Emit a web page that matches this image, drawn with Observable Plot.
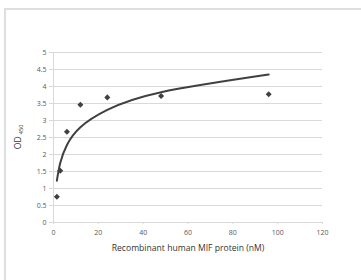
<!DOCTYPE html>
<html><head><meta charset="utf-8">
<script src="https://cdn.jsdelivr.net/npm/d3@7"></script>
<script src="https://cdn.jsdelivr.net/npm/@observablehq/plot@0.6"></script>
<style>
html,body{margin:0;padding:0;background:#fff;}
#frame{position:absolute;left:4px;top:8px;width:357px;height:272px;border-top:2px solid #dedede;border-left:2px solid #dedede;box-sizing:border-box;}
#chart{position:absolute;left:0;top:0;}
</style></head>
<body>
<div id="frame"></div>
<div id="chart"></div>
<script>
// measured points
const concentration = [1.5, 3, 6, 12, 24, 48, 96];
const od450 = [0.76, 1.52, 2.67, 3.46, 3.68, 3.72, 3.77];
// logarithmic trendline
const trendX = [1.5, 3, 6, 12, 24, 48, 96];
const trendY = [1.23, 1.75, 2.28, 2.80, 3.31, 3.83, 4.35];
const xTicks = [0, 20, 40, 60, 80, 100, 120];
const yTicks = [0, 0.5, 1, 1.5, 2, 2.5, 3, 3.5, 4, 4.5, 5];
const xLabel = "Recombinant human MIF protein (nM)";

const points = concentration.map((x, i) => ({x, y: od450[i]}));
const trend = trendX.map((x, i) => ({x, y: trendY[i]}));

const grey = "#595959";
const plot = Plot.plot({
  width: 361, height: 280,
  marginLeft: 53, marginRight: 39, marginTop: 52, marginBottom: 58,
  style: {fontFamily: "'Open Sans', sans-serif", fontSize: "7px", color: grey, background: "transparent"},
  x: {domain: [0, 120], ticks: xTicks, tickFormat: d => String(d), label: null},
  y: {domain: [0, 5], ticks: yTicks, tickFormat: d => String(d), label: null},
  marks: [
    Plot.gridY(yTicks, {stroke: "#d9d9d9", strokeOpacity: 1, strokeWidth: 1}),
    Plot.ruleX([0], {stroke: "#d9d9d9"}),
    Plot.ruleY([0], {stroke: "#d9d9d9"}),
    Plot.axisY(yTicks, {tickSize: 4, tickPadding: 3, stroke: "#d9d9d9", fill: grey, tickFormat: d => String(d)}),
    Plot.axisX(xTicks, {tickSize: 2, tickPadding: 6, stroke: "#d9d9d9", fill: grey, tickFormat: d => String(d)}),
    Plot.line(trend, {x: "x", y: "y", curve: "natural", stroke: "#404040", strokeWidth: 2}),
    Plot.dot(points, {x: "x", y: "y", symbol: "square", rotate: 45, r: 2.4, fill: "#404040", stroke: "none"}),
    Plot.text([xLabel], {frameAnchor: "bottom", dy: 28, text: d => d, fontSize: 8.6, fill: "#333"})
  ]
});
document.getElementById("chart").appendChild(plot);
// y axis label with subscript
const svg = d3.select(plot);
const t = svg.append("text")
  .attr("transform", "translate(21,137) rotate(-90)")
  .attr("text-anchor", "middle")
  .attr("font-size", 8.6)
  .attr("fill", "#333")
  .attr("font-family", "'Open Sans', sans-serif");
t.append("tspan").text("OD ");
t.append("tspan").attr("font-size", 5.5).attr("dy", 2).text("450");
</script>
</body></html>
